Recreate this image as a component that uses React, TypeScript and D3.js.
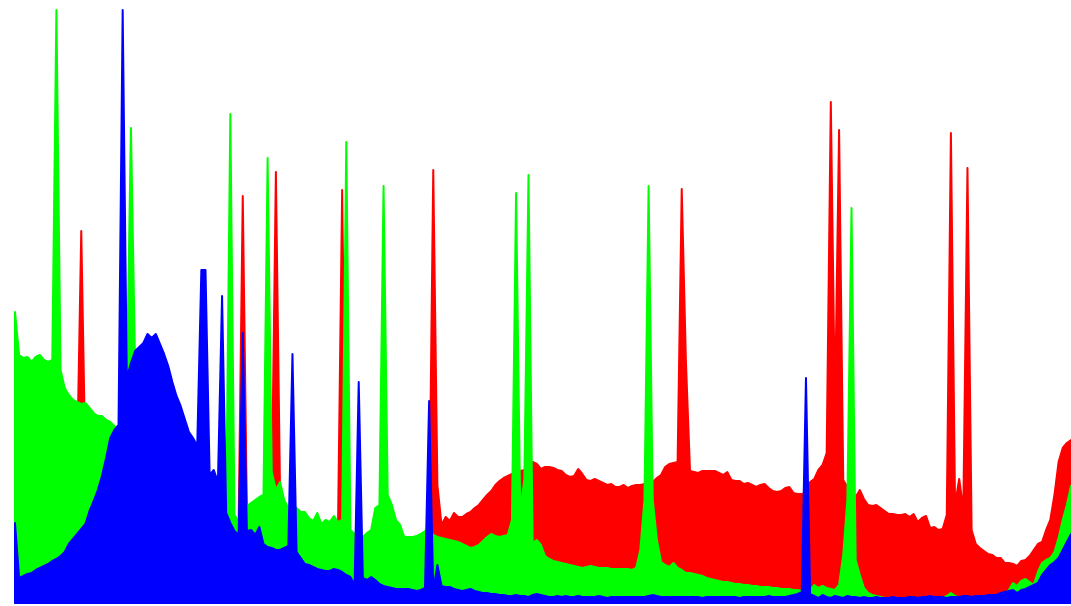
import React, { createRef, Component } from 'react';
import * as d3 from 'd3';

const WIDTH = 1071;
const HEIGHT = 606;

// pixel counts per intensity bin (0..255)
const red: number[] = [
    163, 158, 158, 155, 153, 153, 151, 151, 148, 148, 148, 145, 143, 143, 143, 141,
    372, 138, 135, 133, 131, 128, 125, 123, 121, 118, 117, 116, 115, 114, 113, 112,
    111, 110, 109, 108, 107, 106, 105, 104, 103, 102, 101, 100, 99, 98, 97, 96,
    95, 94, 93, 90, 85, 80, 78, 407, 90, 92, 95, 98, 100, 105, 108, 431,
    112, 95, 88, 86, 86, 84, 84, 80, 78, 80, 76, 76, 76, 78, 76, 413,
    75, 68, 64, 64, 62, 64, 66, 70, 72, 70, 70, 68, 66, 64, 60, 60,
    60, 61, 62, 64, 66, 433, 118, 78, 86, 82, 90, 86, 86, 89, 91, 95,
    98, 103, 108, 112, 118, 122, 125, 127, 129, 131, 132, 133, 138, 141, 139, 134,
    136, 136, 135, 133, 132, 128, 126, 127, 134, 129, 123, 122, 124, 122, 120, 118,
    119, 116, 116, 118, 115, 117, 118, 118, 119, 119, 121, 125, 128, 136, 139, 140,
    141, 414, 243, 132, 131, 130, 132, 132, 132, 132, 130, 128, 131, 123, 122, 122,
    119, 120, 118, 116, 118, 119, 115, 112, 111, 112, 115, 116, 110, 109, 109, 110,
    121, 124, 133, 138, 150, 501, 195, 473, 123, 116, 111, 106, 113, 104, 98, 97,
    98, 95, 92, 89, 89, 88, 88, 89, 86, 89, 81, 85, 87, 75, 76, 73,
    74, 88, 470, 98, 124, 93, 435, 73, 59, 55, 52, 49, 48, 45, 45, 40,
    40, 39, 37, 42, 43, 47, 53, 59, 61, 73, 83, 108, 141, 155, 160, 163
];

const green: number[] = [
    291, 248, 245, 246, 241, 246, 248, 243, 241, 243, 593, 233, 215, 208, 203, 201,
    199, 200, 195, 190, 187, 187, 183, 181, 177, 173, 193, 218, 475, 238, 163, 158,
    153, 148, 145, 141, 137, 133, 129, 125, 121, 118, 115, 113, 111, 109, 107, 105,
    103, 101, 100, 99, 489, 88, 82, 83, 97, 100, 103, 106, 108, 445, 131, 113,
    121, 103, 95, 93, 95, 91, 91, 85, 82, 90, 79, 83, 81, 87, 81, 83,
    461, 73, 69, 70, 66, 70, 73, 95, 98, 417, 108, 98, 83, 78, 66, 66,
    66, 67, 69, 72, 73, 68, 66, 65, 64, 63, 62, 61, 59, 57, 55, 56,
    58, 62, 66, 69, 67, 66, 67, 68, 83, 410, 93, 123, 428, 60, 63, 58,
    47, 44, 42, 41, 40, 39, 38, 37, 36, 35, 36, 37, 36, 35, 35, 35,
    34, 34, 34, 34, 34, 33, 35, 53, 103, 417, 103, 63, 41, 38, 36, 40,
    35, 33, 30, 30, 29, 28, 27, 25, 24, 23, 22, 21, 21, 20, 19, 19,
    18, 18, 17, 17, 16, 16, 16, 15, 15, 14, 14, 14, 13, 13, 12, 13,
    13, 18, 15, 17, 15, 14, 13, 18, 48, 103, 395, 43, 28, 15, 10, 8,
    7, 6, 5, 5, 5, 5, 5, 5, 5, 5, 5, 5, 5, 5, 5, 5,
    5, 7, 10, 7, 5, 5, 5, 5, 5, 5, 5, 5, 5, 6, 7, 9,
    13, 20, 17, 22, 24, 21, 18, 31, 40, 43, 45, 51, 65, 83, 98, 117
];

const blue: number[] = [
    80, 25, 27, 29, 30, 33, 35, 37, 39, 42, 44, 47, 51, 59, 64, 69,
    74, 79, 92, 102, 113, 127, 145, 165, 173, 178, 593, 225, 240, 252, 256, 260,
    269, 265, 269, 259, 249, 237, 221, 207, 197, 184, 171, 165, 157, 333, 333, 128,
    133, 121, 307, 90, 80, 72, 68, 270, 72, 73, 68, 76, 59, 56, 55, 53,
    53, 55, 57, 249, 51, 45, 39, 38, 36, 34, 33, 32, 32, 34, 33, 31,
    28, 26, 18, 221, 25, 23, 26, 23, 19, 17, 16, 15, 14, 14, 14, 14,
    13, 12, 13, 15, 202, 13, 38, 17, 16, 16, 14, 13, 12, 13, 14, 12,
    11, 10, 10, 9, 9, 8, 8, 7, 7, 8, 7, 7, 6, 8, 9, 8,
    7, 6, 6, 7, 6, 7, 6, 6, 7, 6, 6, 6, 6, 7, 6, 5,
    6, 6, 6, 6, 6, 6, 6, 6, 6, 7, 8, 7, 6, 6, 6, 6,
    6, 6, 6, 6, 6, 6, 5, 6, 6, 6, 6, 6, 6, 6, 6, 5,
    6, 6, 6, 6, 6, 6, 7, 6, 6, 6, 6, 7, 8, 9, 11, 225,
    9, 7, 5, 8, 6, 5, 7, 6, 5, 7, 6, 6, 5, 6, 5, 5,
    6, 5, 5, 5, 6, 5, 5, 5, 6, 6, 5, 6, 6, 7, 6, 6,
    6, 5, 6, 6, 6, 7, 7, 6, 7, 7, 7, 8, 8, 8, 10, 11,
    12, 13, 10, 13, 14, 16, 18, 20, 28, 33, 38, 41, 45, 53, 61, 69
];

// drawn in this order: red at the back, blue in front
const channels = [
    { name: 'red', color: '#ff0000', values: red },
    { name: 'green', color: '#00ff00', values: green },
    { name: 'blue', color: '#0000ff', values: blue }
];

class Histogram extends Component {
    ref = createRef<SVGSVGElement>();

    componentDidMount() {
        this.renderChart(this.ref.current);
    }

    renderChart(svgRef: SVGSVGElement | null) {
        const svg = d3.select(svgRef);
        svg.selectAll('*').remove();

        const x = d3.scaleLinear().domain([0, 255]).range([15, 1071]);
        const y = d3.scaleLinear().domain([0, 593]).range([603, 10]);

        const area = d3.area<number>()
            .x((d, i) => x(i))
            .y0(y(0))
            .y1(d => y(d));

        svg.selectAll('path.channel')
            .data(channels)
            .enter().append('path')
            .attr('class', 'channel')
            .attr('d', d => area(d.values))
            .attr('fill', d => d.color)
            .attr('stroke', d => d.color)
            .attr('stroke-width', 2)
            .attr('stroke-linejoin', 'round');
    }

    render() {
        return (
            <svg
                ref={this.ref}
                width={WIDTH}
                height={HEIGHT}
                style={{ position: 'absolute', left: 0, top: 0, background: '#fff' }}
            />
        );
    }
}

export default function App() {
    return <Histogram />;
}
